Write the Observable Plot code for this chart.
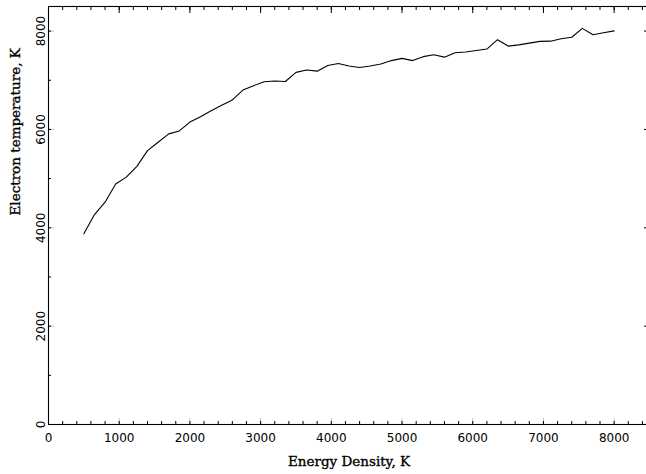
<!DOCTYPE html>
<html><head><meta charset="utf-8">
<script src="https://cdn.jsdelivr.net/npm/d3@7"></script>
<script src="https://cdn.jsdelivr.net/npm/@observablehq/plot@0.6"></script>
<style>html,body{margin:0;padding:0;background:#fff;overflow:hidden}</style>
</head><body><div id="chart"></div>
<script>
const energy = [500,650,800,950,1100,1250,1400,1550,1700,1850,2000,2150,2300,2450,2600,2750,2900,3050,3200,3350,3500,3650,3800,3950,4100,4250,4400,4550,4700,4850,5000,5150,5300,5450,5600,5750,5900,6050,6200,6350,6500,6650,6800,6950,7100,7250,7400,7550,7700,7850,8000];
const temperature = [3880,4270,4520,4890,5030,5250,5570,5740,5910,5970,6150,6260,6380,6490,6600,6800,6890,6970,6985,6975,7160,7210,7185,7300,7340,7290,7260,7290,7330,7400,7445,7400,7480,7520,7470,7560,7575,7605,7635,7825,7695,7720,7755,7790,7795,7845,7875,8055,7925,7965,8005];
const xTickLabels = [0,1000,2000,3000,4000,5000,6000,7000,8000];
const xMinorTicks = [0,200,400,600,800,1000,1200,1400,1600,1800,2000,2200,2400,2600,2800,3000,3200,3400,3600,3800,4000,4200,4400,4600,4800,5000,5200,5400,5600,5800,6000,6200,6400,6600,6800,7000,7200,7400,7600,7800,8000,8200,8400];
const yTickLabels = [0,2000,4000,6000,8000];
const yMinorTicks = [0,1000,2000,3000,4000,5000,6000,7000,8000];
const xTitle = "Energy Density, K";
const yTitle = "Electron temperature, K";

const data = energy.map((e, i) => ({energy: e, temperature: temperature[i]}));
const blank = () => "";
const titleFont = "DejaVu Serif";

const chart = Plot.plot({
  width: 646,
  height: 474,
  marginLeft: 48,
  marginRight: -3,
  marginTop: 6,
  marginBottom: 50,
  style: {fontFamily: "DejaVu Sans, sans-serif", fontSize: "12px", color: "black", background: "white"},
  x: {domain: [0, 8500]},
  y: {domain: [0, 8500]},
  marks: [
    Plot.frame({stroke: "black", strokeWidth: 1.1}),
    // bottom axis
    Plot.axisX({anchor: "bottom", ticks: xMinorTicks, tickSize: -3, tickFormat: blank, label: null}),
    Plot.axisX({anchor: "bottom", ticks: xTickLabels, tickSize: -6, tickPadding: 15, tickFormat: d => String(d), label: null, fontSize: 12, stroke: "black", strokeWidth: 0.25}),
    // top axis
    Plot.axisX({anchor: "top", ticks: xMinorTicks, tickSize: -3, tickFormat: blank, label: null}),
    Plot.axisX({anchor: "top", ticks: xTickLabels, tickSize: -6, tickFormat: blank, label: null}),
    // left axis
    Plot.axisY({anchor: "left", ticks: yMinorTicks, tickSize: -3, tickFormat: blank, label: null}),
    Plot.axisY({anchor: "left", ticks: yTickLabels, tickSize: -6, tickPadding: 10, tickRotate: -90, tickFormat: d => String(d), label: null, fontSize: 12, stroke: "black", strokeWidth: 0.25}),
    // right axis
    Plot.axisY({anchor: "right", ticks: yMinorTicks, tickSize: -3, tickFormat: blank, label: null}),
    Plot.axisY({anchor: "right", ticks: yTickLabels, tickSize: -6, tickFormat: blank, label: null}),
    // data line
    Plot.line(data, {x: "energy", y: "temperature", stroke: "black", strokeWidth: 1.1}),
    // titles
    Plot.text([xTitle], {frameAnchor: "bottom", dy: 37, text: d => d, fontFamily: titleFont, fontSize: 13.5, fill: "black", stroke: "black", strokeWidth: 0.35, lineAnchor: "middle"}),
    Plot.text([yTitle], {frameAnchor: "left", dx: -33, rotate: -90, text: d => d, fontFamily: titleFont, fontSize: 13.5, fill: "black", stroke: "black", strokeWidth: 0.35, lineAnchor: "middle"})
  ]
});
document.getElementById("chart").append(chart);
</script>
</body></html>
